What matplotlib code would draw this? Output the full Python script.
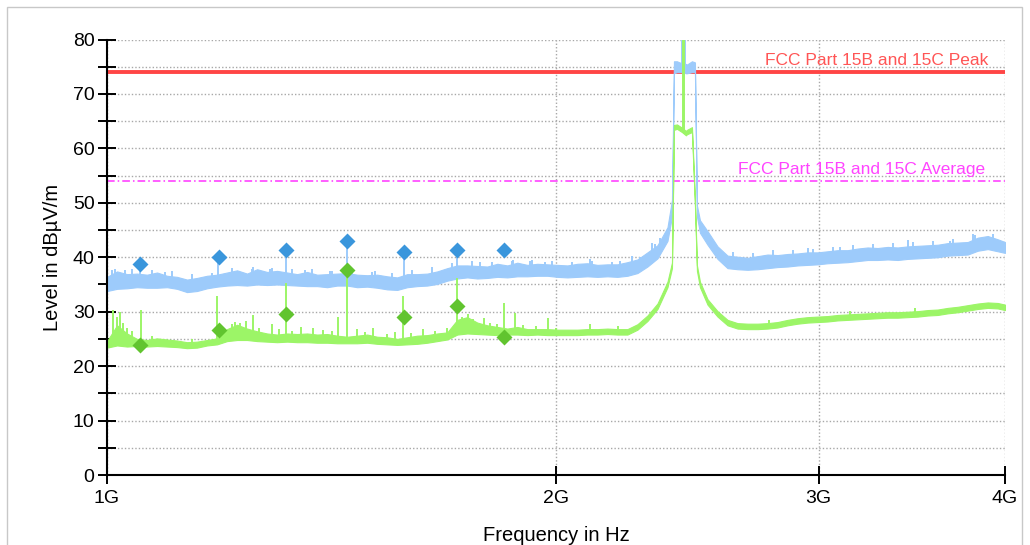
import numpy as np
import matplotlib
matplotlib.use("Agg")
import matplotlib.pyplot as plt
from matplotlib.ticker import FixedLocator, NullLocator
from matplotlib.transforms import blended_transform_factory
from matplotlib.patches import Rectangle

plt.rcParams['font.family'] = ['Liberation Sans', 'DejaVu Sans']

# ---------------- data (MHz, dBuV/m) ----------------
freq_mhz = [1000.0, 1015.6, 1031.4, 1047.4, 1063.7, 1080.3, 1097.1, 1114.2, 1131.5, 1149.0,
            1167.0, 1185.2, 1203.6, 1222.4, 1241.4, 1260.7, 1280.4, 1300.3, 1320.6, 1341.1,
            1362.0, 1383.2, 1404.7, 1426.6, 1448.8, 1471.4, 1494.3, 1517.6, 1541.2, 1565.2,
            1589.6, 1614.3, 1639.5, 1665.0, 1690.9, 1717.3, 1744.0, 1771.2, 1798.8, 1826.8,
            1855.3, 1884.1, 1913.5, 1943.3, 1973.6, 2004.3, 2035.5, 2067.2, 2099.4, 2132.1,
            2165.3, 2199.0, 2233.2, 2268.0, 2303.3, 2339.2, 2375.6, 2392.1, 2399.5, 2410.6,
            2429.3, 2444.3, 2448.1, 2467.1, 2478.5, 2486.2, 2497.8, 2527.1, 2566.5, 2606.4,
            2647.0, 2688.2, 2730.1, 2772.6, 2815.8, 2859.6, 2904.2, 2949.4, 2995.3, 3041.9,
            3089.3, 3137.4, 3186.2, 3235.8, 3286.2, 3337.4, 3389.4, 3442.2, 3495.8, 3550.2,
            3605.5, 3661.6, 3718.6, 3776.5, 3835.3, 3895.0, 3955.6, 4000.0]

# Peak detector trace (lower / upper edge of the noise band)
peak_lo = [33.8, 34.2, 34.3, 34.5, 34.4, 34.4, 34.5, 34.2, 33.6, 33.8,
           34.3, 34.6, 34.8, 34.9, 34.8, 35.0, 34.9, 35.0, 34.9, 34.8,
           34.7, 34.7, 34.5, 34.8, 34.8, 34.5, 34.6, 34.4, 34.1, 34.0,
           34.5, 34.7, 34.8, 35.1, 35.7, 36.1, 36.3, 36.1, 36.2, 36.4,
           36.3, 36.5, 36.5, 36.6, 36.6, 36.4, 36.3, 36.4, 36.5, 36.4,
           36.5, 36.4, 36.6, 37.1, 38.3, 39.8, 43.0, 47.5, 73.8, 74.0,
           74.0, 73.8, 73.8, 74.0, 74.0, 47.5, 44.5, 42.3, 39.7, 38.0,
           37.8, 37.7, 37.8, 38.0, 38.2, 38.3, 38.5, 38.6, 38.7, 38.9,
           39.0, 39.1, 39.3, 39.5, 39.5, 39.6, 39.5, 39.7, 39.8, 39.9,
           40.0, 40.3, 40.4, 40.5, 41.2, 41.5, 41.1, 40.8]
peak_hi = [36.4, 37.4, 36.9, 37.0, 36.8, 37.2, 36.6, 36.4, 35.9, 36.2,
           36.6, 36.8, 37.2, 37.6, 37.0, 37.8, 37.3, 37.5, 37.2, 36.9,
           37.3, 36.8, 36.9, 37.0, 37.1, 36.8, 36.7, 36.8, 36.5, 36.3,
           36.9, 36.9, 37.0, 37.4, 38.0, 38.5, 38.5, 38.4, 38.3, 38.8,
           38.5, 39.0, 38.6, 38.8, 38.7, 38.6, 38.5, 38.8, 38.9, 38.6,
           38.7, 38.7, 39.1, 39.6, 40.9, 42.2, 45.5, 50.5, 76.0, 76.0,
           75.6, 75.5, 75.4, 76.0, 75.8, 49.5, 46.8, 44.8, 42.0, 40.3,
           40.1, 39.9, 40.2, 40.5, 40.4, 40.6, 40.7, 40.9, 40.9, 41.1,
           41.3, 41.3, 41.6, 41.8, 41.7, 41.9, 41.8, 42.0, 42.1, 42.2,
           42.3, 42.6, 42.7, 42.8, 43.6, 43.9, 43.3, 42.8]

# Average detector trace
avg_lo = [23.4, 23.8, 23.6, 23.7, 23.6, 23.7, 23.6, 23.5, 23.3, 23.4,
          23.8, 24.0, 24.6, 24.8, 24.8, 24.6, 24.5, 24.4, 24.5, 24.4,
          24.4, 24.3, 24.3, 24.2, 24.2, 24.2, 24.3, 24.1, 24.0, 23.9,
          24.0, 24.1, 24.3, 24.6, 24.9, 25.8, 26.0, 25.9, 25.8, 25.7,
          25.8, 25.8, 25.7, 25.8, 25.7, 25.7, 25.7, 25.7, 25.8, 25.8,
          25.9, 25.8, 25.8, 26.7, 28.3, 30.5, 34.5, 38.0, 63.4, 63.6,
          63.0, 62.4, 62.6, 63.0, 49.5, 37.5, 34.5, 31.3, 29.1, 27.5,
          26.9, 26.8, 26.8, 26.9, 27.1, 27.5, 27.8, 28.0, 28.1, 28.2,
          28.4, 28.5, 28.6, 28.7, 28.8, 28.9, 28.9, 29.0, 29.1, 29.3,
          29.4, 29.7, 29.9, 30.2, 30.5, 30.7, 30.6, 30.3]
avg_hi = [24.6, 27.5, 26.0, 25.0, 24.8, 25.1, 24.9, 24.7, 24.4, 24.5,
          24.8, 25.1, 26.8, 27.6, 26.9, 26.4, 26.0, 25.8, 26.0, 25.9,
          26.0, 25.8, 25.9, 25.6, 25.4, 25.6, 25.8, 25.4, 25.3, 25.0,
          25.3, 25.6, 25.7, 26.0, 26.2, 28.5, 29.0, 28.0, 27.5, 27.2,
          26.9, 27.2, 26.8, 26.8, 26.8, 26.7, 26.7, 26.7, 26.8, 26.8,
          26.9, 26.8, 26.8, 27.7, 29.3, 31.5, 35.5, 39.0, 64.3, 64.4,
          63.8, 63.2, 63.4, 63.9, 50.5, 38.5, 35.5, 32.3, 30.1, 28.5,
          27.9, 27.8, 27.8, 27.9, 28.1, 28.5, 28.8, 29.0, 29.1, 29.2,
          29.4, 29.5, 29.6, 29.7, 29.8, 29.9, 29.9, 30.0, 30.1, 30.3,
          30.4, 30.7, 30.9, 31.2, 31.5, 31.7, 31.6, 31.3]

# narrow spurs rising out of the noise band
peak_spike_mhz = [1012.4, 1028.2, 1052.3, 1093.6, 1186.9, 1252.7, 1286.2, 1318.4, 1357.7, 1411.0,
                  1448.8, 1512.9, 1582.1, 1717.3, 1778.5, 1872.5, 1921.8, 1967.5, 2107.5, 2207.5,
                  2276.7, 2330.0, 2348.0, 2428.5, 2439.0, 2949.4, 3100.0, 3442.2, 3674.0, 3819.0,
                  1007.7, 1039.4, 1071.9, 1105.6, 1140.2, 1176.1, 1212.9, 1250.9, 1290.3, 1330.8,
                  1372.6, 1415.6, 1460.1, 1505.9, 1553.2, 1601.9, 1652.2, 1704.1, 1757.6, 1812.8,
                  1869.7, 1928.4, 1988.9, 2051.3, 2115.7, 2182.1, 2250.6, 2321.2, 2546.8, 2626.7,
                  2709.1, 2794.1, 2881.9, 2972.3, 3065.6, 3161.8, 3261.0, 3363.4, 3468.9, 3577.8,
                  3690.1, 3805.9, 3925.3]
peak_spike_top = [37.8, 37.6, 38.0, 37.3, 39.8, 38.3, 37.8, 41.0, 37.6, 37.4,
                  43.0, 37.5, 40.8, 40.5, 39.2, 39.5, 39.3, 39.2, 39.7, 39.3,
                  40.0, 42.5, 43.5, 85.0, 85.0, 41.7, 41.8, 43.2, 43.0, 44.0,
                  37.6, 37.9, 37.6, 37.4, 36.9, 37.2, 38.0, 37.8, 38.0, 37.9,
                  37.8, 37.5, 37.7, 37.3, 37.2, 37.6, 38.2, 39.0, 39.3, 39.2,
                  39.4, 39.5, 39.3, 39.2, 39.4, 39.2, 40.2, 42.6, 41.9, 41.0,
                  40.8, 41.3, 41.4, 41.6, 41.9, 42.3, 42.5, 42.6, 42.8, 43.0,
                  43.4, 44.2, 44.3]
avg_spike_mhz = [1009.3, 1015.6, 1020.3, 1025.0, 1053.9, 1185.2, 1218.4, 1227.9, 1252.7, 1290.2,
                 1318.4, 1374.6, 1428.6, 1448.8, 1508.3, 1579.7, 1717.3, 1746.7, 1806.5, 1845.4,
                 1878.3, 1975.7, 2107.5, 2432.0, 2438.0,
                 1031.4, 1039.4, 1071.9, 1140.2, 1212.9, 1240.0, 1265.0, 1305.0, 1330.8, 1350.0,
                 1395.0, 1415.6, 1470.0, 1490.0, 1540.0, 1560.0, 1600.0, 1630.0, 1660.0, 1690.0,
                 1730.0, 1760.0, 1790.0, 1825.0, 1900.0, 1940.0, 2000.0, 2200.0, 2780.0, 3150.0,
                 3480.0]
avg_spike_top = [30.3, 29.0, 30.0, 28.0, 30.3, 32.8, 28.2, 28.0, 29.4, 27.8,
                 35.2, 27.0, 29.0, 37.7, 27.0, 32.8, 36.2, 29.5, 28.0, 31.6,
                 29.8, 28.8, 27.7, 85.0, 85.0,
                 27.0, 26.5, 25.5, 24.9, 27.8, 28.3, 27.0, 26.8, 26.5, 27.2,
                 26.6, 26.4, 26.9, 26.3, 25.9, 26.2, 26.0, 26.8, 26.5, 27.0,
                 29.0, 28.6, 28.8, 27.8, 27.6, 27.3, 27.0, 27.3, 28.4, 30.2,
                 30.6]

# final measurement markers
marker_mhz = [1052.3, 1188.7, 1318.4, 1448.8, 1582.1, 1717.3, 1845.4]
marker_peak = [38.8, 40.1, 41.3, 43.0, 40.9, 41.3, 41.3]
marker_avg = [23.9, 26.7, 29.6, 37.7, 29.0, 31.0, 25.3]

limit_peak = 74.0
limit_avg = 54.0
limit_peak_label = "FCC Part 15B and 15C Peak"
limit_avg_label = "FCC Part 15B and 15C Average"

x_ticks = [1000, 2000, 3000, 4000]
x_ticklabels = ["1G", "2G", "3G", "4G"]

# ---------------- styles ----------------
BLUE_TRACE = '#9DCBFB'
GREEN_TRACE = '#9CF567'
BLUE_MARK = '#3A96DC'
GREEN_MARK = '#61C42F'
RED = '#FF4545'
MAGENTA = '#FF33FF'

fig = plt.figure(figsize=(10.3, 5.45), dpi=100)
fig.patch.set_facecolor('white')
fig.patches.append(Rectangle((7 / 1030, -0.05), 1015 / 1030, 1.05 - 7 / 545,
                             transform=fig.transFigure, fill=False,
                             edgecolor='#C8C8C8', lw=1.0))

ax = fig.add_axes([0.1039, 0.1284, 0.8718, 0.7991])
ax.set_xscale('log')
ax.set_xlim(1000, 4000)
ax.set_ylim(0, 80)

# grid
ax.xaxis.set_major_locator(FixedLocator(x_ticks))
ax.xaxis.set_minor_locator(NullLocator())
ax.set_xticklabels(x_ticklabels)
ax.yaxis.set_major_locator(FixedLocator(list(range(0, 81, 10))))
ax.yaxis.set_minor_locator(FixedLocator(list(range(5, 80, 10))))
ax.grid(True, which='both', axis='y', color='#A8A8A8', lw=1.0, ls=(0, (1, 1.5)))
ax.grid(True, which='major', axis='x', color='#A8A8A8', lw=1.0, ls=(0, (1, 1.5)))
ax.set_axisbelow(True)

for s in ['top', 'right']:
    ax.spines[s].set_visible(False)
for s in ['left', 'bottom']:
    ax.spines[s].set_linewidth(1.5)
    ax.spines[s].set_color('black')
    ax.spines[s].set_zorder(6)

ax.tick_params(axis='y', which='both', direction='inout', length=13, width=1.4,
               pad=2.5, labelsize=14, colors='black')
ax.tick_params(axis='x', which='major', direction='inout', length=13, width=1.4,
               pad=4, labelsize=14, colors='black')

# limit lines
ax.axhline(limit_peak, color=RED, lw=2.8, zorder=2)
ax.axhline(limit_avg, color=MAGENTA, lw=1.1, ls=(0, (5, 2, 1, 2)), zorder=2)
tr = blended_transform_factory(ax.transAxes, ax.transData)
ax.text(0.981, limit_peak + 1.3, limit_peak_label, transform=tr, ha='right',
        va='baseline', color='#FF5555', fontsize=12.5, zorder=3)
ax.text(0.978, limit_avg + 1.3, limit_avg_label, transform=tr, ha='right',
        va='baseline', color='#FF44FF', fontsize=12.5, zorder=3)

# traces
f = np.array(freq_mhz)
lf = np.log(f)
ax.fill_between(f, peak_lo, peak_hi, color=BLUE_TRACE, lw=0.8, edgecolor=BLUE_TRACE, zorder=3)
base = np.interp(np.log(peak_spike_mhz), lf, peak_lo)
ax.vlines(peak_spike_mhz, base, peak_spike_top, color=BLUE_TRACE, lw=1.4, zorder=3)

ax.fill_between(f, avg_lo, avg_hi, color=GREEN_TRACE, lw=0.8, edgecolor=GREEN_TRACE, zorder=4)
base = np.interp(np.log(avg_spike_mhz), lf, avg_lo)
ax.vlines(avg_spike_mhz, base, avg_spike_top, color=GREEN_TRACE, lw=1.4, zorder=4)

# markers
ax.plot(marker_mhz, marker_peak, 'D', color=BLUE_MARK, ms=8, mec='none', zorder=5)
ax.plot(marker_mhz, marker_avg, 'D', color=GREEN_MARK, ms=8, mec='none', zorder=5)

ax.set_ylabel('Level in dBµV/m', fontsize=14.5, labelpad=8)
ax.set_xlabel('Frequency in Hz', fontsize=14.5, labelpad=14)

fig.savefig('out.png', dpi=100)
